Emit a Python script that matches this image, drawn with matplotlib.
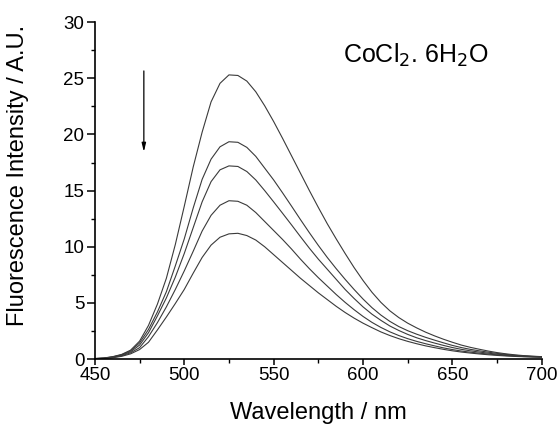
import matplotlib
matplotlib.use('Agg')
import matplotlib.pyplot as plt
import numpy as np
from matplotlib.ticker import MultipleLocator

plt.rcParams['font.family'] = ['Liberation Sans', 'DejaVu Sans']

# wavelength grid (nm)
wavelength = np.arange(450, 701, 5)

# emission spectra, highest to lowest
spec_1 = [0.05, 0.10, 0.22, 0.42, 0.80, 1.60, 3.00, 4.90, 7.20, 10.2,
          13.6, 17.1, 20.2, 22.9, 24.55, 25.3, 25.25, 24.75, 23.8, 22.55,
          21.15, 19.65, 18.1, 16.55, 15.0, 13.5, 12.05, 10.7, 9.40, 8.15,
          7.00, 5.95, 5.05, 4.30, 3.70, 3.20, 2.78, 2.40, 2.07, 1.77,
          1.50, 1.25, 1.05, 0.88, 0.72, 0.58, 0.47, 0.38, 0.31, 0.26, 0.22]
spec_2 = [0.05, 0.09, 0.20, 0.39, 0.74, 1.44, 2.64, 4.20, 6.00, 8.30,
          10.7, 13.45, 16.0, 17.8, 18.9, 19.35, 19.3, 18.85, 18.05, 17.0,
          15.95, 14.8, 13.62, 12.42, 11.25, 10.12, 9.05, 8.05, 7.10, 6.20,
          5.35, 4.58, 3.92, 3.36, 2.90, 2.53, 2.22, 1.94, 1.69, 1.45,
          1.22, 1.03, 0.87, 0.74, 0.62, 0.51, 0.42, 0.34, 0.28, 0.24, 0.21]
spec_3 = [0.05, 0.08, 0.18, 0.35, 0.65, 1.25, 2.35, 3.85, 5.45, 7.30,
          9.40, 11.7, 14.0, 15.8, 16.85, 17.2, 17.15, 16.7, 15.95, 15.0,
          14.0, 12.98, 11.95, 10.9, 9.87, 8.90, 8.00, 7.10, 6.20, 5.40,
          4.65, 4.00, 3.45, 2.95, 2.55, 2.20, 1.90, 1.65, 1.43, 1.22,
          1.03, 0.87, 0.74, 0.63, 0.53, 0.44, 0.37, 0.31, 0.26, 0.22, 0.20]
spec_4 = [0.04, 0.07, 0.15, 0.30, 0.56, 1.02, 2.00, 3.25, 4.65, 6.20,
          7.85, 9.60, 11.4, 12.8, 13.7, 14.1, 14.05, 13.7, 13.05, 12.25,
          11.45, 10.65, 9.80, 8.90, 8.05, 7.25, 6.50, 5.75, 5.05, 4.40,
          3.80, 3.27, 2.82, 2.43, 2.10, 1.82, 1.58, 1.37, 1.18, 1.00,
          0.85, 0.72, 0.62, 0.53, 0.45, 0.38, 0.32, 0.27, 0.23, 0.20, 0.18]
spec_5 = [0.04, 0.06, 0.12, 0.25, 0.47, 0.85, 1.50, 2.60, 3.75, 4.95,
          6.20, 7.65, 9.05, 10.15, 10.85, 11.15, 11.2, 11.0, 10.6, 10.0,
          9.30, 8.60, 7.90, 7.20, 6.55, 5.90, 5.30, 4.70, 4.15, 3.65,
          3.20, 2.80, 2.42, 2.10, 1.82, 1.58, 1.37, 1.18, 1.02, 0.87,
          0.74, 0.63, 0.54, 0.46, 0.39, 0.33, 0.28, 0.24, 0.21, 0.19, 0.17]

fig = plt.figure(figsize=(5.58, 4.25), dpi=100)
ax = fig.add_axes([0.170, 0.155, 0.801, 0.793])

for s in [spec_1, spec_2, spec_3, spec_4, spec_5]:
    ax.plot(wavelength, s, color='#3a3a3a', lw=0.8)

ax.set_xlim(450, 700)
ax.set_ylim(0, 30)
ax.spines['top'].set_visible(False)
ax.spines['right'].set_visible(False)
ax.spines['left'].set_linewidth(1.2)
ax.spines['bottom'].set_linewidth(1.2)

ax.xaxis.set_major_locator(MultipleLocator(50))
ax.xaxis.set_minor_locator(MultipleLocator(25))
ax.yaxis.set_major_locator(MultipleLocator(5))
ax.yaxis.set_minor_locator(MultipleLocator(2.5))
ax.tick_params(axis='both', which='major', direction='out', width=1.1,
               labelsize=13.5, pad=2)
ax.tick_params(axis='x', which='major', length=4)
ax.tick_params(axis='y', which='major', length=5.5)
ax.tick_params(axis='both', which='minor', direction='out', width=1.0, length=2.6)

ax.set_xlabel('Wavelength / nm', fontsize=17, va='bottom')
ax.set_ylabel('Fluorescence Intensity / A.U.', fontsize=17)
ax.xaxis.set_label_coords(0.5, -0.192)
ax.yaxis.set_label_coords(-0.148, 0.545)

# arrow showing decreasing intensity
ax.annotate('', xy=(477.4, 18.2), xytext=(477.4, 25.9),
            arrowprops=dict(arrowstyle='-|>,head_length=0.5,head_width=0.12',
                            color='black', lw=0.9))

ax.text(629.4, 27.05, 'CoCl$_2$. 6H$_2$O', fontsize=18, ha='center', va='center')

fig.savefig('out.png', dpi=100)
